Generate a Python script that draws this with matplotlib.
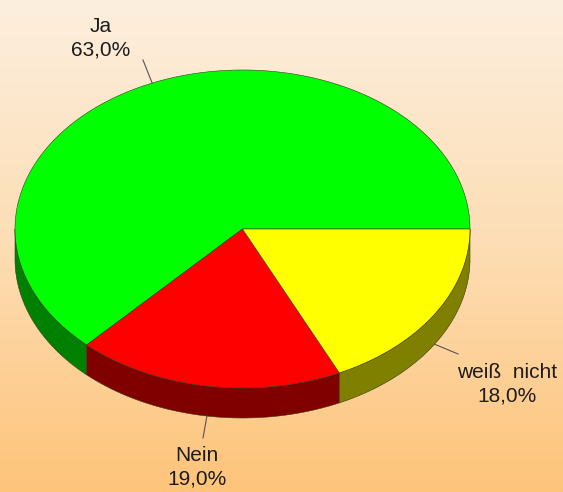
import numpy as np
import matplotlib
matplotlib.use("Agg")
import matplotlib.pyplot as plt
from matplotlib.patches import Polygon

# Survey answers
labels = ["Ja", "Nein", "weiß  nicht"]
values = [63.0, 19.0, 18.0]
top_colors = ["#00ff00", "#ff0000", "#ffff00"]
side_colors = ["#008000", "#800000", "#808000"]

W, H = 563, 492
fig = plt.figure(figsize=(W / 100, H / 100), dpi=100)
ax = fig.add_axes([0, 0, 1, 1])
ax.set_xlim(0, W)
ax.set_ylim(H, 0)
ax.axis("off")

# Vertical cream-to-peach background gradient
top_rgb = np.array([252, 239, 222]) / 255
mid_rgb = np.array([253, 221, 180]) / 255
bot_rgb = np.array([254, 196, 122]) / 255
t = np.linspace(0, 1, 256)[:, None]
grad = np.where(t < 0.5,
                top_rgb + (mid_rgb - top_rgb) * (t / 0.5),
                mid_rgb + (bot_rgb - mid_rgb) * ((t - 0.5) / 0.5))
ax.imshow(grad[:, None, :].repeat(2, axis=1), extent=[0, W, H, 0],
          aspect="auto", zorder=0)

# Pie geometry (screen pixels, y downward)
cx, cy = 242.5, 229.0
rx, ry = 227.5, 159.0
depth = 30.0


def pt(theta_deg, dz=0.0):
    th = np.radians(theta_deg)
    return cx + rx * np.cos(th), cy - ry * np.sin(th) + dz


fractions = np.array(values) / sum(values)
starts = np.concatenate([[0.0], np.cumsum(fractions)[:-1]]) * 360.0
ends = np.cumsum(fractions) * 360.0

# Front walls (only the part facing the viewer, 180..360 deg)
for s, e, sc in zip(starts, ends, side_colors):
    a0, a1 = max(s, 180.0), min(e, 360.0)
    if a1 <= a0:
        continue
    th = np.linspace(a0, a1, 120)
    upper = [pt(a) for a in th]
    lower = [pt(a, depth) for a in th[::-1]]
    ax.add_patch(Polygon(upper + lower, closed=True, facecolor=sc,
                         edgecolor="#3a3a1a", linewidth=0.4, zorder=2))

# Top faces
for s, e, tc in zip(starts, ends, top_colors):
    th = np.linspace(s, e, 240)
    verts = [(cx, cy)] + [pt(a) for a in th]
    ax.add_patch(Polygon(verts, closed=True, facecolor=tc,
                         edgecolor="#3a3a1a", linewidth=0.4, zorder=3))

# Labels with leader lines
font = dict(family="Liberation Sans", fontsize=15, color="#1c1c1c",
            ha="center", va="center", linespacing=1.3)
label_pos = [(101, 38), (197, 467), (507, 384)]
leader_out = [(143, 60), (203, 438), (458, 354)]
for lab, v, s, e, lp, lo in zip(labels, values, starts, ends,
                                label_pos, leader_out):
    mid = (s + e) / 2
    dz = depth if 180 < mid < 360 else 0.0
    x0, y0 = pt(mid, dz)
    ax.plot([x0, lo[0]], [y0, lo[1]], color="#555555", linewidth=0.8,
            zorder=4)
    txt = f"{lab}\n{v:.1f}%".replace(".", ",")
    ax.text(lp[0], lp[1], txt, zorder=5, **font)

fig.savefig("out.png", dpi=100)
